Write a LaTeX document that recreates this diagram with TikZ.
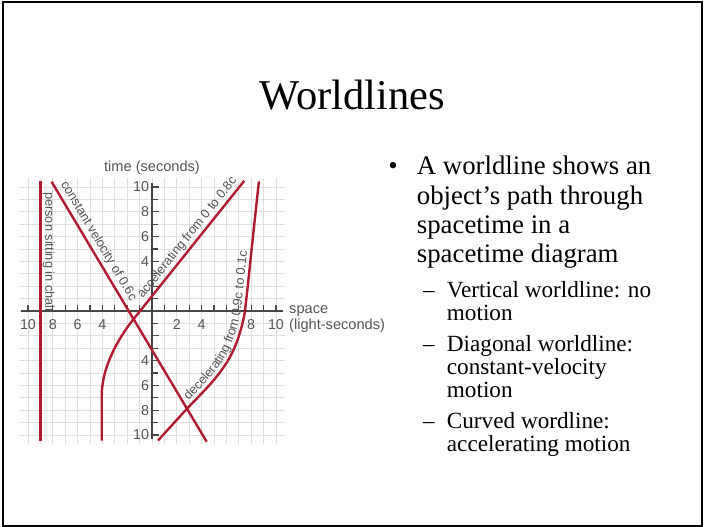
\documentclass[tikz,border=0pt]{standalone}
\usepackage{fontspec}
\setmainfont{Liberation Serif}
\newfontfamily\labfont{Liberation Sans}
\usetikzlibrary{decorations.text}
\definecolor{wlred}{RGB}{178,26,50}
\definecolor{labgray}{RGB}{85,85,85}
\definecolor{gridgray}{RGB}{224,224,224}
\definecolor{axisgray}{RGB}{70,70,70}
\begin{document}
\begin{tikzpicture}[x=1pt,y=-1pt,
  titletext/.style={font=\fontsize{42.5}{46}\selectfont, inner sep=0pt, anchor=base},
  mainline/.style={font=\fontsize{26.8}{29}\selectfont, inner sep=0pt, anchor=base west},
  subline/.style={font=\fontsize{23.2}{25}\selectfont, inner sep=0pt, anchor=base west},
  worldline/.style={draw=wlred, line width=2.4pt, line join=round},
  gridline/.style={draw=gridgray, line width=0.8pt},
  axisline/.style={draw=axisgray, line width=1.1pt},
  numlab/.style={font=\labfont\fontsize{14.3}{14.3}\selectfont, text=labgray, inner sep=0pt},
  axlab/.style={font=\labfont\fontsize{14.6}{15}\selectfont, text=labgray, inner sep=0pt},
  wllab/.style={font=\labfont\fontsize{12.8}{13}\selectfont, text=labgray, inner sep=2.6pt},
]
\useasboundingbox (0,0) rectangle (705,527);
\draw[line width=1.4pt] (3,2) rectangle (702,526);

% title
\node[titletext] (title) at (352.5,110) {Worldlines};

% bullet text
\node[mainline, anchor=base] (bul) at (393,175) {•};
\node[mainline] (m1) at (416.7,175) {A worldline shows an};
\node[mainline] (m2) at (416.7,204) {object’s path through};
\node[mainline] (m3) at (416.7,233) {spacetime in a};
\node[mainline] (m4) at (416.7,262) {spacetime diagram};
\node[subline] (d1) at (423,297) {–};
\node[subline] (s1) at (446.7,297) {Vertical worldline: no};
\node[subline] (s2) at (446.7,320.3) {motion};
\node[subline] (d2) at (423,351) {–};
\node[subline] (s3) at (446.7,351) {Diagonal worldline:};
\node[subline] (s4) at (446.7,374.3) {constant-velocity};
\node[subline] (s5) at (446.7,397.6) {motion};
\node[subline] (d3) at (423,428.3) {–};
\node[subline] (s6) at (446.7,428.3) {Curved wordline:};
\node[subline] (s7) at (446.7,451.6) {accelerating motion};

% spacetime diagram
\begin{scope}[shift={(152,311)}, x=12.4pt, y=12.4pt]
  \foreach \i in {-10,...,10} {
    \draw[gridline] (\i,-10.7) -- (\i,10.7);
    \draw[gridline] (-10.7,\i) -- (10.7,\i);
  }
  \draw[axisline] (-10.6,0) -- (10.6,0);
  \draw[axisline] (0,-10.3) -- (0,10.3);
  \foreach \i in {1,...,10} {
    \draw[axisline] (\i,0) -- (\i,0.45);
    \draw[axisline] (-\i,0) -- (-\i,0.45);
  }
  \foreach \i in {2,4,...,10} {
    \draw[axisline] (0,\i) -- (0.6,\i);
    \draw[axisline] (0,-\i) -- (0.6,-\i);
  }
  \foreach \i in {1,3,...,9} {
    \draw[axisline] (0,\i) -- (0.45,\i);
    \draw[axisline] (0,-\i) -- (0.45,-\i);
  }
  \foreach \v/\n [count=\k] in {-10/10,-8/8,-6/6,-4/4,2/2,4/4,8/8,10/10}
    \node[numlab, anchor=base] (hx\k) at (\v,-1.53) {\n};
  \foreach \v/\n [count=\k] in {10/10,8/8,6/6,4/4,-4/4,-6/6,-8/8,-10/10}
    \node[numlab, anchor=east] (vx\k) at (-0.22,\v) {\n};
  \node[axlab, anchor=base] (tlab) at (0,11.23) {time (seconds)};
  \node[axlab, anchor=base west] (slab) at (11.05,-0.23) {space};
  \node[axlab, anchor=base west] (llab) at (11.05,-1.5) {(light-seconds)};

  % person sitting in chair
  \draw[worldline] (-9,10.5) -- (-9,-10.5);
  \node[wllab, rotate=-90, anchor=south west, inner sep=0.5pt] (pslab) at (-8.87,9.65) {person sitting in chair};

  % constant velocity
  \draw[worldline] (-8.1,10.43) -- node[wllab, sloped, pos=0.01, anchor=south west] (cvlab) {constant velocity of 0.6c} (4.41,-10.54);

  % accelerating
  \draw[worldline] (-4.05,-10.45) -- (-4.05,-6.8) .. controls (-4.05,-4.6) and (-2.8,-2.3) .. (-1.5,-0.67) -- (7.44,10.5);
  \path (-1.5,-0.67) -- node[wllab, sloped, pos=0.99, anchor=south east] (aclab) {accelerating from 0 to 0.8c} (7.44,10.5);

  % decelerating
  \draw[worldline] plot[smooth, tension=0.6] coordinates {(0.48,-10.45) (1.69,-9.12) (2.9,-7.8) (4.76,-5.83) (6.0,-4.2) (6.8,-2.6) (7.36,-0.73) (7.6,0.9) (8.1,5.6) (8.62,10.45)};
  \path[decorate, decoration={text along path, raise=4.2pt, text align=left, text color=labgray,
      text={|\labfont\fontsize{12.8}{13}\selectfont|decelerating from 0.9c to 0.1c}}]
    plot[smooth, tension=0.6] coordinates {(3.2,-7.45) (4.76,-5.83) (6.0,-4.2) (6.8,-2.6) (7.36,-0.73) (7.6,0.9) (8.1,5.6) (8.62,10.45)};
\end{scope}
\end{tikzpicture}
\end{document}
